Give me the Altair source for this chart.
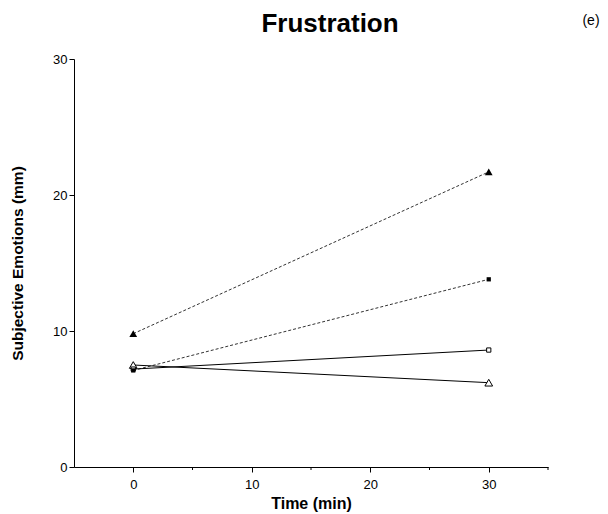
import altair as alt
import pandas as pd

# Subjective frustration ratings at baseline and after 30 minutes
times = [0, 30]
series_names = ["A", "B", "C", "D"]
filled_triangle = [9.8, 21.7]
filled_square = [7.1, 13.8]
open_square = [7.2, 8.6]
open_triangle = [7.5, 6.2]

rows = []
for name, vals in zip(series_names, [filled_triangle, filled_square, open_square, open_triangle]):
    for t, v in zip(times, vals):
        rows.append({"series": name, "time": t, "value": v})
df = pd.DataFrame(rows)

FONT = "Liberation Sans"
xscale = alt.Scale(domain=[-5, 35], nice=False, zero=False)
yscale = alt.Scale(domain=[0, 30], nice=False)

x_axis = alt.Axis(values=[0, 10, 20, 30], tickSize=5, tickColor="black", domainColor="black",
                  labelFont=FONT, labelFontSize=13, labelColor="black", labelPadding=6,
                  title="Time (min)", titleFont=FONT, titleFontSize=16, titleFontWeight="bold",
                  titleColor="black", titlePadding=4, grid=False, labelFlush=False)
y_axis = alt.Axis(values=[0, 10, 20, 30], tickSize=5, tickColor="black", domainColor="black",
                  labelFont=FONT, labelFontSize=13, labelColor="black", labelPadding=2,
                  title="Subjective Emotions (mm)", titleFont=FONT, titleFontSize=15.5,
                  titleFontWeight="bold", titleColor="black", titlePadding=27, grid=False,
                  labelFlush=False)

base = alt.Chart(df)

dashed = base.transform_filter(alt.FieldOneOfPredicate(field="series", oneOf=["A", "B"])).mark_line(
    color="#333333", strokeWidth=1, strokeDash=[3, 2]
).encode(
    x=alt.X("time:Q", scale=xscale, axis=x_axis),
    y=alt.Y("value:Q", scale=yscale, axis=y_axis),
    detail="series:N",
)

solid = base.transform_filter(alt.FieldOneOfPredicate(field="series", oneOf=["C", "D"])).mark_line(
    color="black", strokeWidth=1
).encode(
    x=alt.X("time:Q", scale=xscale),
    y=alt.Y("value:Q", scale=yscale),
    detail="series:N",
)

def pts(name, shape, filled, size):
    return base.transform_filter(alt.datum.series == name).mark_point(
        shape=shape, filled=filled, size=size, color="black", strokeWidth=1,
        fill="black" if filled else "white", opacity=1
    ).encode(x=alt.X("time:Q", scale=xscale), y=alt.Y("value:Q", scale=yscale))

markers = [
    pts("D", "triangle-up", False, 60),
    pts("C", "square", False, 18),
    pts("B", "square", True, 18),
    pts("A", "triangle-up", True, 60),
]

# minor ticks on the time axis
minor_df = pd.DataFrame({"t": [5, 15, 25, 35]})
minor = alt.Chart(minor_df).mark_rule(color="black", strokeWidth=1).encode(
    x=alt.X("t:Q", scale=xscale),
    y=alt.value(408),
    y2=alt.value(411),
)

title = alt.Chart(pd.DataFrame({"txt": ["Frustration"]})).mark_text(
    font=FONT, fontSize=26, fontWeight="bold", color="black", align="center", baseline="alphabetic"
).encode(text="txt:N", x=alt.value(256), y=alt.value(-27))

panel = alt.Chart(pd.DataFrame({"txt": ["(e)"]})).mark_text(
    font=FONT, fontSize=14, color="black", align="center", baseline="alphabetic"
).encode(text="txt:N", x=alt.value(517), y=alt.value(-34))

chart = alt.layer(dashed, solid, *markers, minor, title, panel).properties(
    width=474, height=408,
    background="white",
    padding={"left": 74, "top": 59, "right": 60, "bottom": 47},
    autosize=alt.AutoSizeParams(type="none"),
).configure_view(strokeWidth=0, stroke=None)

chart.save("out.html", embed_options={"renderer": "svg", "actions": False})
